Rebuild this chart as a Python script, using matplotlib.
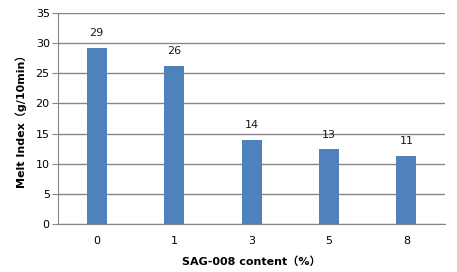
import matplotlib.pyplot as plt

# SAG-008 content vs melt index
categories = ['0', '1', '3', '5', '8']
melt_index = [29.2, 26.2, 13.9, 12.4, 11.3]
bar_labels = ['29', '26', '14', '13', '11']

plt.rcParams['font.family'] = ['DejaVu Sans', 'Noto Sans CJK SC']

fig = plt.figure(figsize=(4.57, 2.72), dpi=100)
ax = fig.add_axes([0.127, 0.1765, 0.847, 0.7755])

x = range(len(categories))
bars = ax.bar(x, melt_index, width=0.26, color='#4f81bd', zorder=3)

for b, lab in zip(bars, bar_labels):
    ax.annotate(lab, (b.get_x() + b.get_width() / 2, b.get_height()),
                xytext=(0, 7), textcoords='offset points',
                ha='center', va='bottom', fontsize=8, color='#1a1a1a')

ax.set_xlim(-0.5, len(categories) - 0.5)
ax.set_ylim(0, 35)
ax.set_yticks(range(0, 36, 5))
ax.set_xticks(list(x))
ax.set_xticklabels(categories)

ax.grid(axis='y', color='#868686', linewidth=1, zorder=0)
for s in ['top', 'right']:
    ax.spines[s].set_visible(False)
ax.spines['left'].set_color('#868686')
ax.spines['bottom'].set_color('#868686')
ax.tick_params(axis='y', length=4, color='#868686', labelsize=8, pad=2)
ax.tick_params(axis='x', length=0, labelsize=8, pad=9)

ax.set_ylabel('Melt Index（g/10min）', fontsize=8, fontweight='bold', labelpad=6)
ax.set_xlabel('SAG-008 content（%）', fontsize=8, fontweight='bold', labelpad=7)

fig.savefig('out.png', dpi=100)
